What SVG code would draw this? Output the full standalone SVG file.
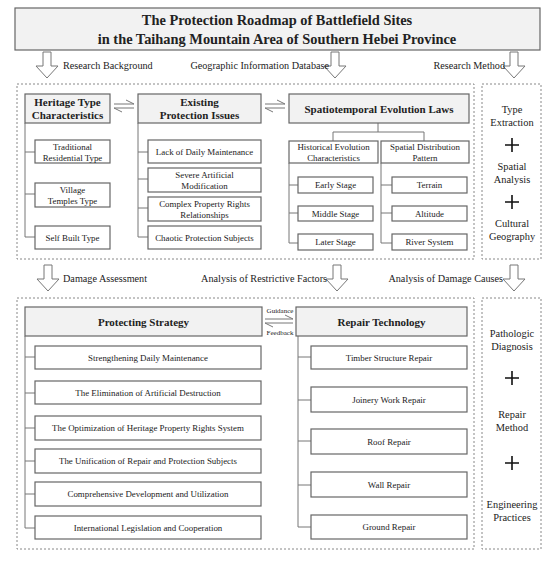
<svg xmlns="http://www.w3.org/2000/svg" xmlns:xlink="http://www.w3.org/1999/xlink" width="550" height="562" viewBox="0 0 550 562">
<style>
text{font-family:"Liberation Serif","Times New Roman",serif;fill:#222;}
.title{font-size:14.4px;font-weight:bold;text-anchor:middle;}
.hdr{font-size:11px;font-weight:bold;text-anchor:middle;}
.ch{font-size:8.9px;text-anchor:middle;}
.lbl{font-size:10.2px;}
.side{font-size:10.4px;text-anchor:middle;}
.tiny{font-size:7px;text-anchor:middle;}
.hbox{fill:#f2f2f2;stroke:#666;stroke-width:1.2;}
.cbox{fill:#fff;stroke:#666;stroke-width:1.2;}
.dash{fill:none;stroke:#888;stroke-width:1;stroke-dasharray:2,2;}
.con{fill:none;stroke:#777;stroke-width:1;}
.harp{fill:none;stroke:#777;stroke-width:1;}
.plus{stroke:#111;stroke-width:1.6;}
.harrow{fill:#fff;stroke:#777;stroke-width:1;}
</style>
<defs>
<path id="hollow" class="harrow" d="M-4,0 L4,0 L4,14 L11,14 L0,26 L-11,14 L-4,14 Z"/>
</defs>
<rect width="550" height="562" fill="#fff"/>

<g id="title">
<rect x="15" y="8" width="525" height="42" class="hbox"/>
<text class="title" x="277" y="25">The Protection Roadmap of Battlefield Sites</text>
<text class="title" x="277" y="44">in the Taihang Mountain Area of Southern Hebei Province</text>
</g>

<g id="flow-arrows">
<use xlink:href="#hollow" x="47" y="52"/>
<use xlink:href="#hollow" x="335" y="52"/>
<use xlink:href="#hollow" x="514" y="52"/>
<use xlink:href="#hollow" x="48" y="265"/>
<use xlink:href="#hollow" x="337" y="265"/>
<use xlink:href="#hollow" x="514" y="265"/>
</g>

<g id="flow-labels">
<text class="lbl" x="63" y="69">Research Background</text>
<text class="lbl" x="329" y="69" text-anchor="end">Geographic Information Database</text>
<text class="lbl" x="505" y="69" text-anchor="end">Research Method</text>
<text class="lbl" x="63" y="282">Damage Assessment</text>
<text class="lbl" x="327" y="282" text-anchor="end">Analysis of Restrictive Factors</text>
<text class="lbl" x="503" y="282" text-anchor="end">Analysis of Damage Causes</text>
</g>

<g id="frames">
<rect x="17" y="84" width="457" height="175" class="dash"/>
<rect x="482" y="84" width="59" height="175" class="dash"/>
<rect x="17" y="298" width="457" height="251" class="dash"/>
<rect x="482" y="298" width="59" height="251" class="dash"/>
</g>

<g id="connectors">
<path class="con" d="M25,123 V237 M25,152 H35 M25,194 H35 M25,237 H35"/>
<path class="con" d="M138,123 V237 M138,152 H148 M138,179 H148 M138,208 H148 M138,237 H148"/>
<path class="con" d="M378,123 V132 M333,141 V132 H424 V141"/>
<path class="con" d="M289,163 V243 M289,185 H298 M289,213 H298 M289,243 H298"/>
<path class="con" d="M381,163 V243 M381,185 H392 M381,213 H392 M381,243 H392"/>
<path class="con" d="M25,336 V528 M25,357 H35 M25,393 H35 M25,428 H35 M25,461 H35 M25,494 H35 M25,528 H35"/>
<path class="con" d="M298,336 V527 M298,357 H311 M298,400 H311 M298,441 H311 M298,485 H311 M298,527 H311"/>
<path class="harp" d="M114,104 H134 L126,100 M134,108 H114 L122,112"/>
<path class="harp" d="M265,104 H285 L277,100 M285,108 H265 L273,112"/>
<path class="harp" d="M265,319 H293 L285,315 M293,323 H265 L273,327"/>
</g>

<g id="guidance-labels">
<text class="tiny" x="280" y="313">Guidance</text>
<text class="tiny" x="280" y="335">Feedback</text>
</g>

<g id="heritage">
<rect x="25" y="94" width="85" height="29" class="hbox"/>
<text class="hdr" x="67.5" y="106">Heritage Type</text>
<text class="hdr" x="67.5" y="119">Characteristics</text>
</g>
<g id="heritage-1"><rect x="35" y="140" width="75" height="23" class="cbox"/><text class="ch" x="72.5" y="150">Traditional</text><text class="ch" x="72.5" y="161">Residential Type</text></g>
<g id="heritage-2"><rect x="35" y="183" width="75" height="24" class="cbox"/><text class="ch" x="72.5" y="193">Village</text><text class="ch" x="72.5" y="204">Temples Type</text></g>
<g id="heritage-3"><rect x="35" y="226" width="75" height="23" class="cbox"/><text class="ch" x="72.5" y="241">Self Built Type</text></g>

<g id="existing">
<rect x="138" y="94" width="123" height="29" class="hbox"/>
<text class="hdr" x="199.5" y="106">Existing</text>
<text class="hdr" x="199.5" y="119">Protection Issues</text>
</g>
<g id="existing-1"><rect x="148" y="140" width="113" height="23" class="cbox"/><text class="ch" x="204.5" y="155">Lack of Daily Maintenance</text></g>
<g id="existing-2"><rect x="148" y="168" width="113" height="24" class="cbox"/><text class="ch" x="204.5" y="178">Severe Artificial</text><text class="ch" x="204.5" y="189">Modification</text></g>
<g id="existing-3"><rect x="148" y="197" width="113" height="24" class="cbox"/><text class="ch" x="204.5" y="207">Complex Property Rights</text><text class="ch" x="204.5" y="218">Relationships</text></g>
<g id="existing-4"><rect x="148" y="226" width="113" height="23" class="cbox"/><text class="ch" x="204.5" y="241">Chaotic Protection Subjects</text></g>

<g id="spatiotemporal">
<rect x="289" y="94" width="180" height="29" class="hbox"/>
<text class="hdr" x="379" y="112.5">Spatiotemporal Evolution Laws</text>
</g>
<g id="historical"><rect x="289" y="141" width="89" height="22" class="cbox"/><text class="ch" x="333.5" y="150">Historical Evolution</text><text class="ch" x="333.5" y="161">Characteristics</text></g>
<g id="spatial"><rect x="381" y="141" width="88" height="22" class="cbox"/><text class="ch" x="425" y="150">Spatial Distribution</text><text class="ch" x="425" y="161">Pattern</text></g>
<g id="early"><rect x="298" y="177" width="75" height="16" class="cbox"/><text class="ch" x="335.5" y="188">Early Stage</text></g>
<g id="middle"><rect x="298" y="206" width="75" height="15" class="cbox"/><text class="ch" x="335.5" y="216.5">Middle Stage</text></g>
<g id="later"><rect x="298" y="234" width="75" height="16" class="cbox"/><text class="ch" x="335.5" y="245">Later Stage</text></g>
<g id="terrain"><rect x="392" y="177" width="75" height="16" class="cbox"/><text class="ch" x="429.5" y="188">Terrain</text></g>
<g id="altitude"><rect x="392" y="206" width="75" height="15" class="cbox"/><text class="ch" x="429.5" y="216.5">Altitude</text></g>
<g id="river"><rect x="392" y="234" width="75" height="16" class="cbox"/><text class="ch" x="429.5" y="245">River System</text></g>

<g id="methods-top">
<text class="side" x="512" y="113">Type</text>
<text class="side" x="512" y="126">Extraction</text>
<path class="plus" d="M505,145 H519 M512,138 V152"/>
<text class="side" x="512" y="170">Spatial</text>
<text class="side" x="512" y="183">Analysis</text>
<path class="plus" d="M505,202 H519 M512,195 V209"/>
<text class="side" x="512" y="227">Cultural</text>
<text class="side" x="512" y="240">Geography</text>
</g>

<g id="protecting">
<rect x="25" y="307" width="237" height="29" class="hbox"/>
<text class="hdr" x="143.5" y="325.5">Protecting Strategy</text>
</g>
<g id="protecting-1"><rect x="35" y="346" width="226" height="23" class="cbox"/><text class="ch" x="148" y="360.5">Strengthening Daily Maintenance</text></g>
<g id="protecting-2"><rect x="35" y="381" width="226" height="23" class="cbox"/><text class="ch" x="148" y="395.5">The Elimination of Artificial Destruction</text></g>
<g id="protecting-3"><rect x="35" y="416" width="226" height="24" class="cbox"/><text class="ch" x="148" y="431">The Optimization of Heritage Property Rights System</text></g>
<g id="protecting-4"><rect x="35" y="449" width="226" height="24" class="cbox"/><text class="ch" x="148" y="464">The Unification of Repair and Protection Subjects</text></g>
<g id="protecting-5"><rect x="35" y="482" width="226" height="24" class="cbox"/><text class="ch" x="148" y="497">Comprehensive Development and Utilization</text></g>
<g id="protecting-6"><rect x="35" y="516" width="226" height="23" class="cbox"/><text class="ch" x="148" y="530.5">International Legislation and Cooperation</text></g>

<g id="repair">
<rect x="296" y="307" width="171" height="29" class="hbox"/>
<text class="hdr" x="381.5" y="325.5">Repair Technology</text>
</g>
<g id="repair-1"><rect x="311" y="346" width="156" height="23" class="cbox"/><text class="ch" x="389" y="360.5">Timber Structure Repair</text></g>
<g id="repair-2"><rect x="311" y="387" width="156" height="25" class="cbox"/><text class="ch" x="389" y="402.5">Joinery Work Repair</text></g>
<g id="repair-3"><rect x="311" y="429" width="156" height="25" class="cbox"/><text class="ch" x="389" y="444.5">Roof Repair</text></g>
<g id="repair-4"><rect x="311" y="472" width="156" height="25" class="cbox"/><text class="ch" x="389" y="487.5">Wall Repair</text></g>
<g id="repair-5"><rect x="311" y="515" width="156" height="24" class="cbox"/><text class="ch" x="389" y="530">Ground Repair</text></g>

<g id="methods-bottom">
<text class="side" x="512" y="337">Pathologic</text>
<text class="side" x="512" y="350">Diagnosis</text>
<path class="plus" d="M505,378 H519 M512,371 V385"/>
<text class="side" x="512" y="418">Repair</text>
<text class="side" x="512" y="431">Method</text>
<path class="plus" d="M505,463 H519 M512,456 V470"/>
<text class="side" x="512" y="508">Engineering</text>
<text class="side" x="512" y="521">Practices</text>
</g>
</svg>
